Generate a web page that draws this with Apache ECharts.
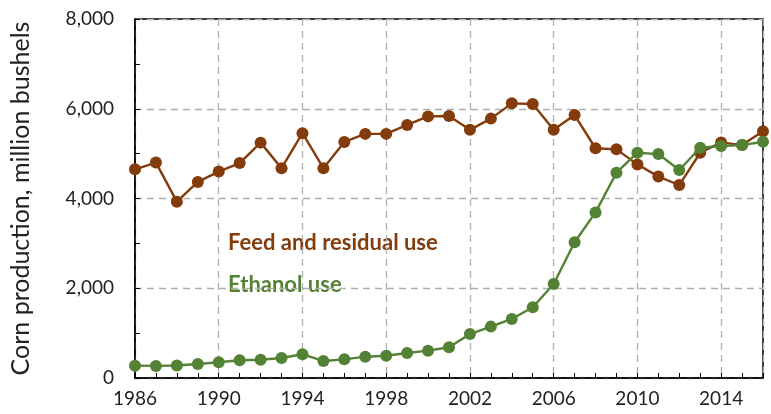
<!DOCTYPE html>
<html><head><meta charset="utf-8">
<script src="https://cdn.jsdelivr.net/npm/echarts@6/dist/echarts.min.js"></script>
<style>html,body{margin:0;padding:0;background:#fff}#c{width:771px;height:414px}</style>
</head><body><div id="c"></div>
<script>
var years = [1986,1987,1988,1989,1990,1991,1992,1993,1994,1995,1996,1997,1998,1999,2000,2001,2002,2003,2004,2005,2006,2007,2008,2009,2010,2011,2012,2013,2014,2015,2016];
var feedUse = [4650,4800,3930,4370,4600,4790,5245,4675,5455,4675,5260,5440,5440,5640,5830,5840,5530,5780,6120,6105,5530,5860,5120,5095,4760,4490,4300,5020,5250,5190,5500];
var ethanolUse = [275,270,280,312,350,395,408,446,528,380,416,475,497,557,609,685,980,1145,1315,1575,2095,3025,3690,4575,5020,4990,4635,5130,5170,5190,5265];
var yTicks = [0,2000,4000,6000,8000];

function pairs(v){ return years.map(function(y,i){ return [y, v[i]]; }); }
var FONT = 'Lato';
var chart = echarts.init(document.getElementById('c'));
chart.setOption({
  animation: false,
  grid: {left:134, right:8, top:19, bottom:36, show:true, borderColor:'#000', borderWidth:1.5, backgroundColor:'transparent'},
  xAxis: {
    type:'value', min:1986, max:2016, interval:4,
    axisLine:{lineStyle:{color:'#000', width:1.5}},
    axisTick:{show:true, inside:true, length:5, lineStyle:{color:'#000'}},
    minorTick:{show:true, splitNumber:4, length:5, lineStyle:{color:'#000'}},
    splitLine:{show:true, lineStyle:{color:'#b0b0b0', type:[7,5], width:1.3}},
    axisLabel:{color:'#222', fontFamily:FONT, fontSize:19, margin:11, showMaxLabel:false,
      formatter:function(v){return String(v);}}
  },
  yAxis: {
    type:'value', min:0, max:8000, interval:2000,
    name:'Corn production, million bushels', nameLocation:'middle', nameGap:102,
    nameTextStyle:{color:'#222', fontFamily:FONT, fontSize:25},
    axisLine:{show:true, lineStyle:{color:'#000', width:1.5}},
    axisTick:{show:true, inside:true, length:5, lineStyle:{color:'#000'}},
    minorTick:{show:true, splitNumber:2, length:5, lineStyle:{color:'#000'}},
    splitLine:{show:true, lineStyle:{color:'#b0b0b0', type:[7,5], width:1.3}},
    axisLabel:{color:'#222', fontFamily:FONT, fontSize:19, margin:21,
      formatter:function(v){ return yTicks.indexOf(v)>=0 ? v.toLocaleString('en-US') : ''; }}
  },
  series: [
    {type:'line', name:'Feed and residual use', data:pairs(feedUse), symbol:'circle', symbolSize:12,
     lineStyle:{color:'#843C0C', width:2.4}, itemStyle:{color:'#843C0C'}, z:3},
    {type:'line', name:'Ethanol use', data:pairs(ethanolUse), symbol:'circle', symbolSize:12,
     lineStyle:{color:'#548235', width:2.4}, itemStyle:{color:'#548235'}, z:4}
  ],
  graphic: [
    {type:'text', left:228, top:232, style:{text:'Feed and residual use', fill:'#843C0C', font:'bold 22px Lato'}},
    {type:'text', left:228, top:274, style:{text:'Ethanol use', fill:'#548235', font:'bold 22px Lato'}}
  ]
});
</script></body></html>
